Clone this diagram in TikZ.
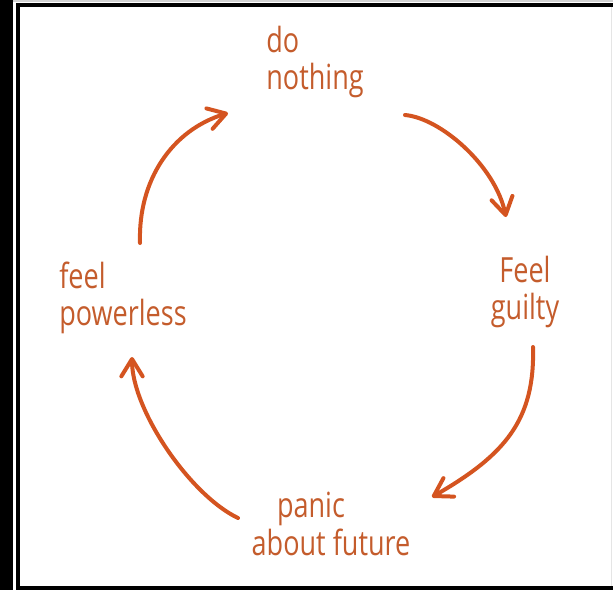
\documentclass[tikz,border=0pt]{standalone}
\usepackage{fontspec}
\newfontfamily\handfont[FakeStretch=0.78]{Open Sans}
\usetikzlibrary{arrows.meta}
\definecolor{penorange}{RGB}{196,92,44}
\definecolor{penred}{RGB}{212,84,32}
\tikzset{
 cyc label/.style={text=penorange,inner sep=0pt,
                   font=\handfont\fontsize{26}{28}\selectfont},
 cyc arrow/.style={penred,line width=3pt,line cap=round,line join=round,
                   -{Straight Barb[length=13pt,width=16pt,line cap=round,line join=round]}},
 frame band/.style={fill=black,draw=none}
}
\begin{document}
\begin{tikzpicture}[x=0.75pt,y=-0.75pt]
 \useasboundingbox (0,0) rectangle (613,590);
 % frame
 \fill[frame band] (0,0) rectangle (13,590);
 \fill[gray!35] (13,0) rectangle (613,2);
 \fill[frame band] (16,3) rectangle (613,7);
 \fill[frame band] (16,3) rectangle (20,590);
 \fill[frame band] (16,586) rectangle (613,590);
 \fill[gray!20] (611,7) rectangle (612,586);
 % labels
 \node[cyc label,align=left] (nothing) at (315,62) {do\\nothing};
 \node[cyc label,align=center] (guilty) at (525,292) {Feel\\guilty};
 \node[cyc label,align=left] (panic) at (331,524) {\hspace*{19pt}panic\\about future};
 \node[cyc label,align=left] (powerless) at (123,298) {feel\\powerless};
 % arrow ends
 \foreach \n/\x/\y in {s1/140/243,t1/228/113,s2/405/115,t2/506/217,
                       s3/533/347,t3/432/497,s4/238/518,t4/132/357}{
   \coordinate (\n) at (\x,\y);
 }
 \draw[cyc arrow] (s1) .. controls (138,180) and (172,130) .. (t1);
 \draw[cyc arrow] (s2) .. controls (440,118) and (495,165) .. (t2);
 \draw[cyc arrow] (s3) .. controls (535,420) and (505,455) .. (t3);
 \draw[cyc arrow] (s4) .. controls (190,495) and (132,410) .. (t4);
\end{tikzpicture}
\end{document}
